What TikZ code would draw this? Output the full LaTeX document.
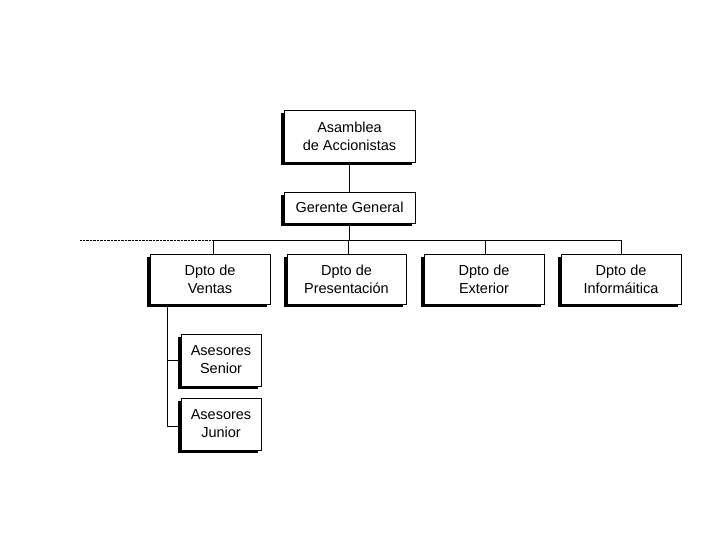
\documentclass[tikz,border=0pt]{standalone}
\usepackage{fontspec}
\setmainfont{Liberation Sans}
\begin{document}
\begin{tikzpicture}[x=1pt,y=-1pt,
  box/.style={draw,thin,fill=white,align=center,inner sep=0pt,font=\fontsize{14.5}{18}\selectfont},
  sh/.style={fill=black}]
\useasboundingbox (0,0) rectangle (720,540);
\newcommand{\bx}[6]{% name x1 y1 x2 y2 text
  \fill[sh] (#2-3,#3+3) rectangle (#4-3,#5+3);
  \node[box,minimum width=#4-#2,minimum height=#5-#3] (#1) at ({(#2+#4)/2},{(#3+#5)/2}) {#6};}
\bx{asa}{284}{110}{415}{162}{Asamblea\\de Accionistas}
\bx{ger}{284}{192}{415}{223}{Gerente General}
\bx{ven}{150}{254}{270}{304}{Dpto de\\Ventas}
\bx{pre}{287}{254}{406}{304}{Dpto de\\Presentación}
\bx{ext}{424}{254}{544}{304}{Dpto de\\Exterior}
\bx{inf}{561}{254}{681}{304}{Dpto de\\Informáitica}
\bx{sen}{181}{334}{261}{386}{Asesores\\Senior}
\bx{jun}{181}{398}{261}{450}{Asesores\\Junior}
\coordinate (bl) at (213,240);
\coordinate (br) at (621,240);
\coordinate (dl) at (80,240);
\draw (asa) -- (ger);
\draw (ger.south) -- (ger.south |- bl);
\draw (bl) -- (br);
\draw[densely dotted] (dl) -- (bl);
\draw (bl) -- (bl |- ven.north);
\draw (348,240) -- (348,254);
\draw (485,240) -- (485,254);
\draw (br) -- (br |- inf.north);
\coordinate (vt) at (167,304);
\draw (vt) -- (167,426) -- (jun.west |- 0,426);
\draw (167,360) -- (sen.west |- 0,360);
\end{tikzpicture}
\end{document}
